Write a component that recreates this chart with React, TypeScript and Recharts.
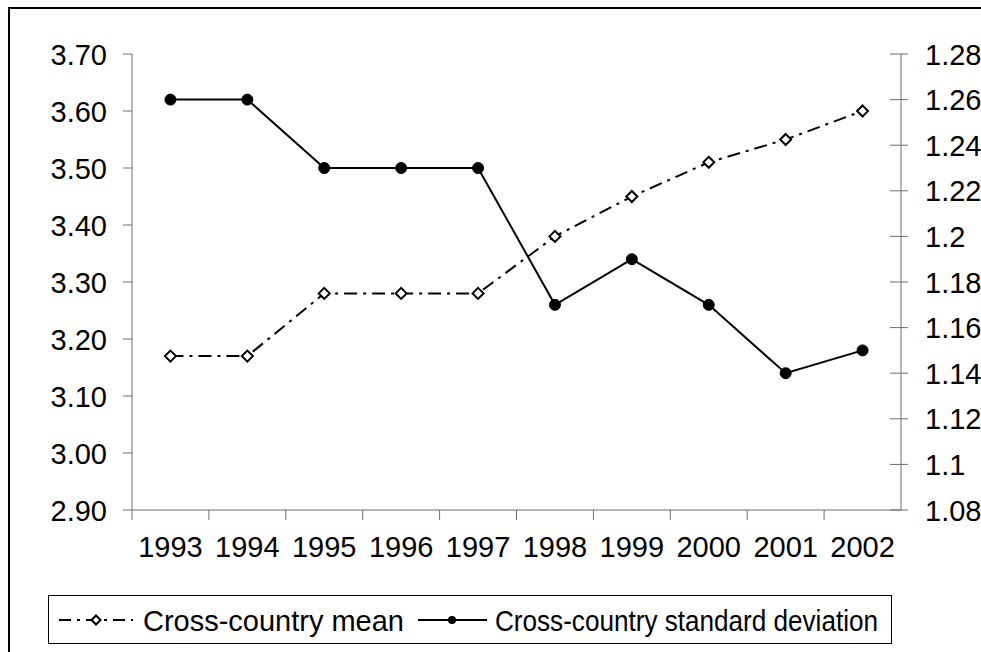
import React from "react";
import { LineChart, Line, XAxis, YAxis, Legend } from "recharts";

const years = ["1993", "1994", "1995", "1996", "1997", "1998", "1999", "2000", "2001", "2002"];
const meanValues = [3.17, 3.17, 3.28, 3.28, 3.28, 3.38, 3.45, 3.51, 3.55, 3.6];
const sdValues = [1.26, 1.26, 1.23, 1.23, 1.23, 1.17, 1.19, 1.17, 1.14, 1.15];
const leftTicks = [2.9, 3.0, 3.1, 3.2, 3.3, 3.4, 3.5, 3.6, 3.7];
const leftTickLabels = ["2.90", "3.00", "3.10", "3.20", "3.30", "3.40", "3.50", "3.60", "3.70"];
const rightTicks = [1.08, 1.1, 1.12, 1.14, 1.16, 1.18, 1.2, 1.22, 1.24, 1.26, 1.28];
const rightTickLabels = ["1.08", "1.1", "1.12", "1.14", "1.16", "1.18", "1.2", "1.22", "1.24", "1.26", "1.28"];
const seriesNames = ["Cross-country mean", "Cross-country standard deviation"];

const data = years.map((y, i) => ({ year: y, mean: meanValues[i], sd: sdValues[i] }));

const FONT = "'Liberation Sans', Arial, Helvetica, sans-serif";
const FS = 29;
const AXIS = "#6e6e6e";
const CHART_W = 971;
const CHART_H = 642;
const LEFT_W = 122;
const RIGHT_W = 80;
const PLOT_W = CHART_W - LEFT_W - RIGHT_W;
const HALF_BAND = PLOT_W / years.length / 2;

const XTick = (props: any) => {
  const { x, y, payload } = props;
  return (
    <g>
      <line x1={x - HALF_BAND} x2={x - HALF_BAND} y1={y} y2={y + 10} stroke={AXIS} strokeWidth={1} />
      <text x={x} y={y + 47} textAnchor="middle" fontSize={FS} fontFamily={FONT} fill="#000">
        {payload.value}
      </text>
    </g>
  );
};

const LeftTick = (props: any) => {
  const { x, y, index } = props;
  return (
    <g>
      <line x1={x - 9} x2={x} y1={y} y2={y} stroke={AXIS} strokeWidth={1} />
      <text x={x - 25} y={y + 10.5} textAnchor="end" fontSize={FS} fontFamily={FONT} fill="#000">
        {leftTickLabels[index]}
      </text>
    </g>
  );
};

const RightTick = (props: any) => {
  const { x, y, index } = props;
  return (
    <g>
      <line x1={x - 11} x2={x + 7} y1={y} y2={y} stroke={AXIS} strokeWidth={1} />
      <text x={x + 24} y={y + 10.5} textAnchor="start" fontSize={FS} fontFamily={FONT} fill="#000">
        {rightTickLabels[index]}
      </text>
    </g>
  );
};

const Diamond = (props: any) => {
  const { cx, cy } = props;
  if (cx == null || cy == null) return null;
  const r = 5.5;
  return (
    <path
      d={`M${cx},${cy - r} L${cx + r},${cy} L${cx},${cy + r} L${cx - r},${cy} Z`}
      fill="#fff"
      stroke="#000"
      strokeWidth={2}
    />
  );
};

const Dot = (props: any) => {
  const { cx, cy } = props;
  if (cx == null || cy == null) return null;
  return <circle cx={cx} cy={cy} r={5.5} fill="#000" stroke="#000" />;
};

const LegendContent = () => (
  <svg width={CHART_W} height={50} style={{ display: "block" }}>
    <rect x={38.5} y={0.5} width={843} height={48} fill="#fff" stroke="#000" strokeWidth={1} />
    <line x1={49} x2={123} y1={25} y2={25} stroke="#000" strokeWidth={2} strokeDasharray="12 6 3 6" />
    <path d="M86,20.5 L90.5,25 L86,29.5 L81.5,25 Z" fill="#fff" stroke="#000" strokeWidth={2} />
    <text x={133} y={36} fontSize={FS} fontFamily={FONT} fill="#000" textLength={261} lengthAdjust="spacingAndGlyphs">
      {seriesNames[0]}
    </text>
    <line x1={408} x2={477} y1={25} y2={25} stroke="#000" strokeWidth={2} />
    <circle cx={442} cy={25} r={4} fill="#000" />
    <text x={485} y={36} fontSize={FS} fontFamily={FONT} fill="#000" textLength={383} lengthAdjust="spacingAndGlyphs">
      {seriesNames[1]}
    </text>
  </svg>
);

export default function App() {
  return (
    <>
      <style>{"html,body{overflow:hidden;background:#fff;}"}</style>
      <div
        style={{
          position: "fixed",
          left: 8,
          top: 7,
          width: 973,
          height: 645,
          borderTop: "2px solid #000",
          borderLeft: "2px solid #000",
          boxSizing: "border-box",
          background: "#fff",
          overflow: "hidden",
        }}
      >
        <LineChart
          width={CHART_W}
          height={CHART_H}
          data={data}
          margin={{ top: 45, right: 0, left: 0, bottom: 6 }}
        >
          <XAxis
            dataKey="year"
            scale="band"
            height={85}
            tickLine={false}
            tickSize={0}
            tickMargin={0}
            interval={0}
            axisLine={{ stroke: AXIS, strokeWidth: 1 }}
            tick={<XTick />}
          />
          <YAxis
            yAxisId="left"
            width={LEFT_W}
            domain={[2.9, 3.7]}
            ticks={leftTicks}
            tickLine={false}
            tickSize={0}
            tickMargin={0}
            interval={0}
            axisLine={{ stroke: AXIS, strokeWidth: 1 }}
            tick={<LeftTick />}
          />
          <YAxis
            yAxisId="right"
            orientation="right"
            width={RIGHT_W}
            domain={[1.08, 1.28]}
            ticks={rightTicks}
            tickLine={false}
            tickSize={0}
            tickMargin={0}
            interval={0}
            axisLine={{ stroke: AXIS, strokeWidth: 1 }}
            tick={<RightTick />}
          />
          <Legend verticalAlign="bottom" content={() => <LegendContent />} />
          <Line
            yAxisId="left"
            dataKey="mean"
            name={seriesNames[0]}
            stroke="#000"
            strokeWidth={2}
            strokeDasharray="13 6 3 6"
            dot={<Diamond />}
            activeDot={false}
            isAnimationActive={false}
          />
          <Line
            yAxisId="right"
            dataKey="sd"
            name={seriesNames[1]}
            stroke="#000"
            strokeWidth={2}
            dot={<Dot />}
            activeDot={false}
            isAnimationActive={false}
          />
        </LineChart>
      </div>
    </>
  );
}
